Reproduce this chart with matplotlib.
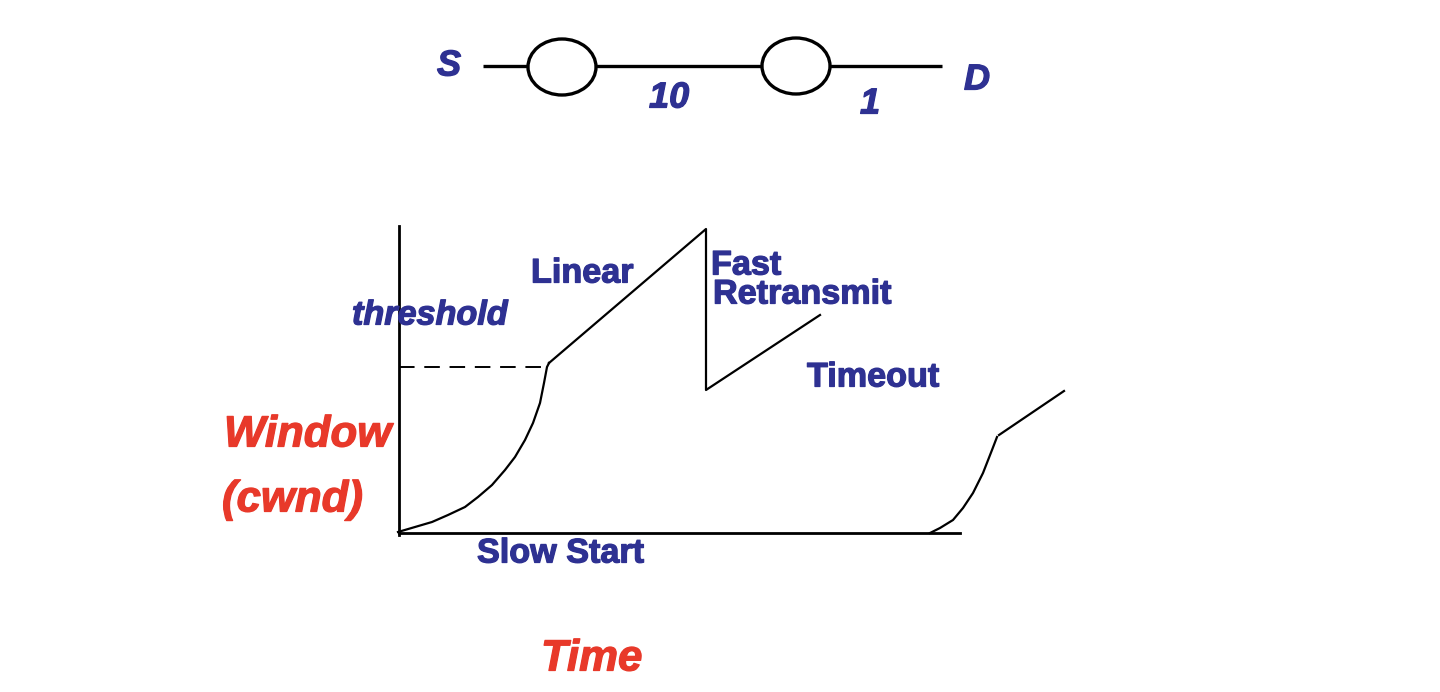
import numpy as np
import matplotlib.pyplot as plt
import matplotlib.patheffects as pe
from matplotlib.patches import Ellipse

plt.rcParams['font.family'] = ['Liberation Sans', 'DejaVu Sans']

BLUE = '#2E3192'
RED = '#E8392A'

# everything in picture pixels (x right, y down)
# top network: S -- router --10-- router --1-- D
link_x = [483, 942]
link_y = [66, 66]
router_x = [562, 796]
router_y = [67, 66]

# axes of the cwnd diagram
yaxis_x = [399, 399]
yaxis_y = [226, 535]
xaxis_x = [399, 960]
xaxis_y = [533, 533]

# threshold (dashed)
thresh_x = [399, 548]
thresh_y = [367, 367]

# slow start curve
ss_x = [398, 415, 432, 448, 465, 478, 492, 505, 515, 525, 533, 540, 544, 547, 549]
ss_y = [532, 527, 522, 515, 507, 497, 485, 470, 457, 440, 423, 403, 383, 367, 363]

# linear growth, fast retransmit drop, linear again
lin_x = [549, 706, 706, 820]
lin_y = [363, 229, 390, 315]

# after timeout: slow start again then linear
ss2_x = [930, 940, 953, 963, 973, 983, 992, 997]
ss2_y = [533, 528, 520, 508, 493, 473, 450, 437]
lin2_x = [999, 1064]
lin2_y = [435, 391]

fig = plt.figure(figsize=(14.4, 6.92), dpi=100)
ax = fig.add_axes([0, 0, 1, 1])
ax.set_xlim(0, 1440)
ax.set_ylim(692, 0)
ax.axis('off')


def heavy(color):
    return [pe.withStroke(linewidth=0.9, foreground=color)]


# network
ax.plot(link_x, link_y, color='black', lw=2.4, solid_capstyle='butt', zorder=1)
for cx, cy in zip(router_x, router_y):
    ax.add_patch(Ellipse((cx, cy), 68, 56, facecolor='white', edgecolor='black', lw=2.4, zorder=2))

lab = dict(color=BLUE, fontweight='bold', fontstyle='italic', fontsize=26, path_effects=heavy(BLUE))
ax.text(437, 66, 'S', ha='left', va='center', **lab)
ax.text(649, 98, '10', ha='left', va='center', **lab)
ax.text(860, 104, '1', ha='left', va='center', **lab)
ax.text(964, 80, 'D', ha='left', va='center', **lab)

# diagram
ax.plot(yaxis_x, yaxis_y, color='black', lw=2.0)
ax.plot(xaxis_x, xaxis_y, color='black', lw=2.0)
ax.plot(thresh_x, thresh_y, color='black', lw=1.4, dashes=(8, 5))
ax.plot(ss_x, ss_y, color='black', lw=1.6)
ax.plot(lin_x, lin_y, color='black', lw=1.6)
ax.plot(ss2_x, ss2_y, color='black', lw=1.6)
ax.plot(lin2_x, lin2_y, color='black', lw=1.6)

blue = dict(color=BLUE, fontweight='bold', fontsize=24.6, ha='left', va='center',
            path_effects=heavy(BLUE))
ax.text(352, 316, 'threshold', fontstyle='italic', **blue)
ax.text(531, 274, 'Linear', **blue)
ax.text(711, 266, 'Fast', **blue)
ax.text(713, 295, 'Retransmit', **blue)
ax.text(807, 378, 'Timeout', **blue)
ax.text(477, 554, 'Slow Start', **blue)

red = dict(color=RED, fontweight='bold', fontstyle='italic', fontsize=31.5, ha='left', va='center',
           path_effects=heavy(RED))
ax.text(224, 435, 'Window', **red)
ax.text(222, 500, '(cwnd)', **red)
ax.text(541, 659, 'Time', **red)

fig.savefig('out.png', dpi=100)
